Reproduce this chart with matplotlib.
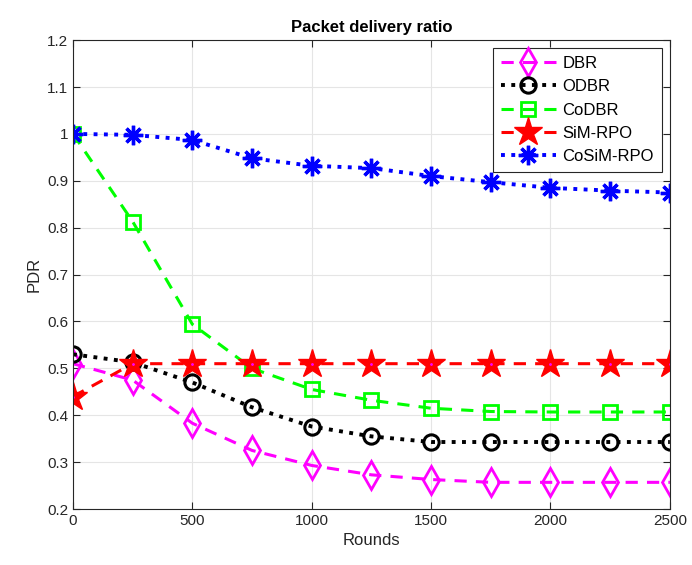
import matplotlib.pyplot as plt

plt.rcParams['font.family'] = ['Liberation Sans', 'DejaVu Sans']

rounds = [0, 250, 500, 750, 1000, 1250, 1500, 1750, 2000, 2250, 2500]
dbr = [0.51, 0.475, 0.383, 0.325, 0.293, 0.273, 0.263, 0.257, 0.257, 0.257, 0.257]
odbr = [0.53, 0.513, 0.47, 0.417, 0.376, 0.355, 0.343, 0.343, 0.343, 0.343, 0.343]
codbr = [1.0, 0.813, 0.594, 0.50, 0.455, 0.432, 0.415, 0.408, 0.407, 0.407, 0.407]
simrpo = [0.44, 0.51, 0.51, 0.51, 0.51, 0.51, 0.51, 0.51, 0.51, 0.51, 0.51]
cosimrpo = [1.0, 0.998, 0.987, 0.948, 0.932, 0.927, 0.91, 0.897, 0.885, 0.879, 0.875]

fig = plt.figure(figsize=(6.92, 5.65), dpi=100)
ax = fig.add_axes([0.1055, 0.099, 0.8625, 0.83])

ax.plot(rounds, dbr, '--', color='magenta', lw=2.2, marker='d', ms=14,
        mfc='none', mec='magenta', mew=2, label='DBR', dashes=(4, 3))
ax.plot(rounds, odbr, ':', color='black', lw=2.8, marker='o', ms=11,
        mfc='none', mec='black', mew=2.2, label='ODBR')
ax.plot(rounds, codbr, '--', color='#00ff00', lw=2.2, marker='s', ms=10,
        mfc='none', mec='#00ff00', mew=2, label='CoDBR', dashes=(4, 3))
ax.plot(rounds, simrpo, '--', color='red', lw=2.2, marker='*', ms=21,
        mfc='red', mec='red', label='SiM-RPO', dashes=(4, 3))
# small magenta centre dot inside the stars
ax.plot(rounds, simrpo, ls='none', marker='.', ms=2, color='magenta')
ax.plot(rounds, cosimrpo, ':', color='blue', lw=2.8, marker=(8, 2, 0), ms=14,
        mec='blue', mew=2.4, label='CoSiM-RPO')

ax.set_xlim(0, 2500)
ax.set_ylim(0.2, 1.2)
ax.set_xticks(range(0, 2501, 500))
ax.set_yticks([0.2, 0.3, 0.4, 0.5, 0.6, 0.7, 0.8, 0.9, 1.0, 1.1, 1.2])
ax.set_yticklabels(['0.2', '0.3', '0.4', '0.5', '0.6', '0.7', '0.8', '0.9', '1', '1.1', '1.2'])
ax.grid(True, color='#e5e5e5', lw=0.8)
ax.set_axisbelow(True)
ax.tick_params(direction='in', top=True, right=True, labelsize=11, colors='#262626', length=5)
for s in ax.spines.values():
    s.set_color('#262626')
    s.set_linewidth(0.8)

ax.set_xlabel('Rounds', fontsize=12, color='#262626')
ax.set_ylabel('PDR', fontsize=12, color='#262626')
ax.set_title('Packet delivery ratio', fontsize=12, fontweight='bold')

leg = ax.legend(loc='upper right', fontsize=12, fancybox=False, framealpha=1,
                edgecolor='#262626', handlelength=3.3, borderaxespad=0.5,
                labelspacing=0.5, handletextpad=0.4, borderpad=0.45)
leg.get_frame().set_linewidth(0.8)

fig.savefig('out.png', dpi=100)
